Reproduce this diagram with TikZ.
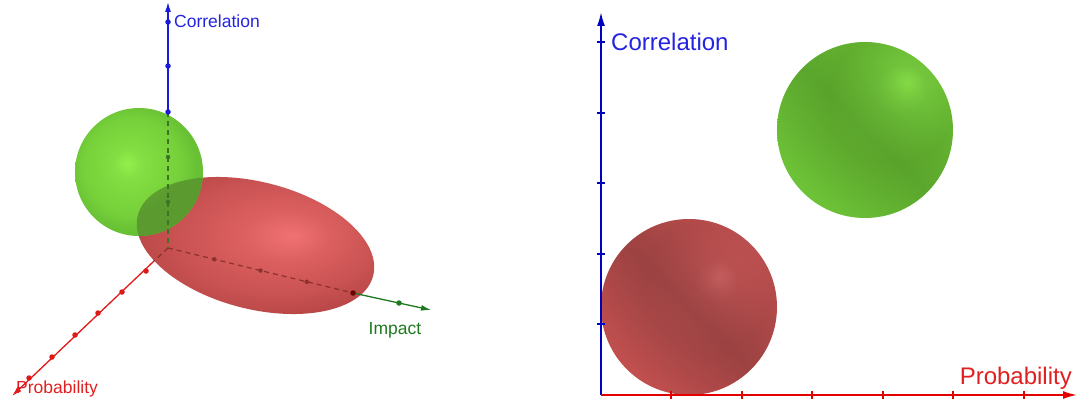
\documentclass[tikz,border=0pt]{standalone}
\usepackage{fontspec}
\setmainfont{Liberation Sans}
\usetikzlibrary{arrows.meta,shapes.geometric,calc,fadings}
\definecolor{axblue}{HTML}{1A1AD8}
\definecolor{axred}{HTML}{E01818}
\definecolor{axgreen}{HTML}{1E7A1E}
\definecolor{labblue}{HTML}{2424E0}
\definecolor{labred}{HTML}{E02020}
\definecolor{hidred}{HTML}{8C3030}
\definecolor{hidgreen}{HTML}{3C7426}
\definecolor{gHi}{HTML}{94EE4C}
\definecolor{gMid}{HTML}{82DE42}
\definecolor{gBase}{HTML}{76D03A}
\definecolor{gEdge}{HTML}{68C034}
\definecolor{oHi}{HTML}{6CAE38}
\definecolor{oBase}{HTML}{5A9A2E}
\definecolor{rHi}{HTML}{F07272}
\definecolor{rMid}{HTML}{DC5F5F}
\definecolor{rBase}{HTML}{C95252}
\definecolor{rEdge}{HTML}{BB4848}
\definecolor{GHi}{HTML}{8EE84C}
\definecolor{GMid}{HTML}{76CA3E}
\definecolor{GBase}{HTML}{68B832}
\definecolor{GEdge}{HTML}{6EC438}
\definecolor{GBand}{HTML}{4E9226}
\definecolor{RHi}{HTML}{DC6C6C}
\definecolor{RMid}{HTML}{C65656}
\definecolor{RBase}{HTML}{BA4E4E}
\definecolor{REdge}{HTML}{C45050}
\definecolor{RBand}{HTML}{823838}
\pgfdeclareradialshading{greenL}{\pgfpoint{-4.7bp}{3.5bp}}{color(0bp)=(gHi); color(6bp)=(gMid); color(19bp)=(gBase); color(25bp)=(gEdge); color(50bp)=(gEdge)}
\pgfdeclareradialshading{greenO}{\pgfpoint{-4.7bp}{3.5bp}}{color(0bp)=(oHi); color(19bp)=(oBase); color(50bp)=(oBase)}
\pgfdeclareradialshading{redL}{\pgfpoint{7.3bp}{1bp}}{color(0bp)=(rHi); color(9bp)=(rMid); color(20bp)=(rBase); color(27bp)=(rEdge); color(50bp)=(rEdge)}
\pgfdeclareradialshading{greenR}{\pgfpoint{12bp}{13.5bp}}{color(0bp)=(GHi); color(7bp)=(GMid); color(18bp)=(GBase); color(30bp)=(GEdge); color(50bp)=(GEdge)}
\pgfdeclareradialshading{redR}{\pgfpoint{8.8bp}{8.5bp}}{color(0bp)=(RHi); color(6bp)=(RMid); color(18bp)=(RBase); color(30bp)=(REdge); color(50bp)=(REdge)}
\tikzfading[name=bandfade, top color=transparent!100, bottom color=transparent!100, middle color=transparent!45]
\begin{document}
\begin{tikzpicture}[x=1pt,y=-1pt,
  axisL/.style={line width=1.3pt},
  axisR/.style={line width=1.8pt},
  tipL/.style={-{Latex[length=10pt,width=6pt]}},
  tipR/.style={-{Latex[length=14pt,width=8pt]}},
  dot/.style={circle,fill,inner sep=0pt,minimum size=5.5pt},
  hdot/.style={circle,fill,inner sep=0pt,minimum size=4.5pt},
  hidden/.style={line width=1.2pt,dash pattern=on 5pt off 4pt},
  labL/.style={font=\fontsize{17.5}{20}\selectfont,inner sep=0pt},
  labR/.style={font=\fontsize{24}{28}\selectfont,inner sep=0pt},
  ball/.style={circle,inner sep=0pt,shade}
]
\useasboundingbox (0,0) rectangle (1077,404);
% ---------- left panel ----------
\coordinate (O) at (168,248);
\coordinate (Ztop) at (168,2);
\coordinate (Zs) at (168,112);
\coordinate (Ptip) at (12,396);
\coordinate (Ps) at (153,262);
\coordinate (Itip) at (431,310);
\coordinate (Is) at (353,293);
% red ellipsoid
\node[ellipse,minimum width=243pt,minimum height=127pt,inner sep=0pt,rotate=-14.4,shade,shading=redL] (ell) at (255.5,245.5) {};
% hidden axes
\draw[hidden,color=hidred] (O) -- (Is);
\draw[hidden,color=hidred] (O) -- (Ps);
\foreach \t in {1,2,3} \node[hdot,fill=hidred] at ($(O)!\t/4!(Is)$) {};
% green sphere
\node[ball,shading=greenL,minimum size=128pt] (gs) at (139,172) {};
% overlap of sphere and ellipsoid
\begin{scope}
  \clip[rotate around={-14.4:(ell.center)}] (ell.center) ellipse [x radius=121.5pt, y radius=63.5pt];
  \shade[shading=greenO] (gs.center) circle (64pt);
\end{scope}
\draw[hidden,color=hidgreen] (Zs) -- (O);
\foreach \y in {157,202} \node[hdot,fill=hidgreen] at (168,\y) {};
% visible axes
\draw[axisL,axblue,tipL] (Zs) -- (Ztop);
\foreach \y in {22,66,112} \node[dot,fill=axblue] at (168,\y) {};
\draw[axisL,axred,tipL] (Ps) -- (Ptip);
\foreach \x/\y in {146/271,122/292,98/313,75/335,52/357,29/378} \node[dot,fill=axred] at (\x,\y) {};
\draw[axisL,axgreen,tipL] (Is) -- (Itip);
\node[dot,fill=black!60!red] at (Is) {};
\node[dot,fill=axgreen] at (399,303) {};
% labels
\node[labL,labblue,anchor=west] (corrL) at (174,21) {Correlation};
\node[labL,axgreen] (impL) at (395,330) {Impact};
\node[labL,labred,anchor=west] (probL) at (16,389) {Probability};
% ---------- right panel ----------
\coordinate (OR) at (601,395);
\coordinate (YR) at (601,12);
\coordinate (XR) at (1077,395);
\node[ball,shading=redR,minimum size=176pt] (rs) at (689,307) {};
\fill[RBand,path fading=bandfade,fading angle=-45] (rs.center) circle (88pt);
\node[ball,shading=greenR,minimum size=176pt] (gsR) at (865,130) {};
\fill[GBand,path fading=bandfade,fading angle=-45] (gsR.center) circle (88pt);
\draw[axisR,color=blue!75!black,tipR] (OR) -- (YR);
\draw[axisR,color=red!90!black,tipR] (OR) -- (XR);
\foreach \y in {42,113,183,254,324} \draw[line width=1.3pt,blue!75!black] (597,\y) -- (605,\y);
\foreach \x in {671,742,812,883,953,1024} \draw[line width=1.3pt,red!90!black] (\x,391) -- (\x,399);
\node[labR,labblue,anchor=west] (corrR) at (611,42) {Correlation};
\node[labR,labred,anchor=east] (probR) at (1072,378) {Probability};
\end{tikzpicture}
\end{document}
